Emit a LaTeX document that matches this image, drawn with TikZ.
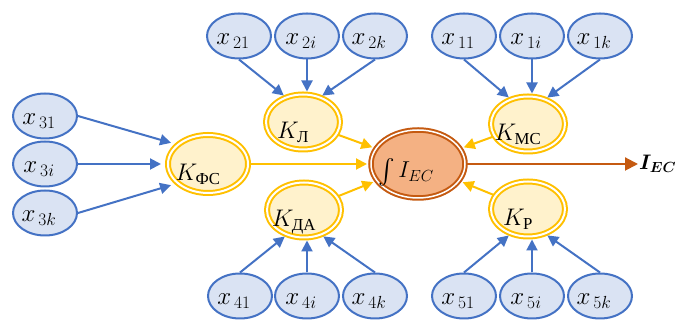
\RequirePackage{fix-cm}
\documentclass[tikz,border=0pt]{standalone}
\usepackage{fontspec}
\usepackage{amsmath}
\usetikzlibrary{shapes.geometric,arrows.meta}

\newfontfamily\cyrfont{Liberation Serif}

\definecolor{lineblue}{HTML}{4472C4}
\definecolor{fillblue}{HTML}{DAE3F3}
\definecolor{lineyellow}{HTML}{FFC000}
\definecolor{fillyellow}{HTML}{FFF2CC}
\definecolor{linebrown}{HTML}{C55A11}
\definecolor{fillbrown}{HTML}{F4B183}

% text set off the centre of its ellipse (low and to the left)
\newcommand{\shiftlabel}[3]{\makebox[0pt]{\raisebox{#2}[0pt][0pt]{\kern#1\relax#3\kern-#1\relax}}}
\newcommand{\xlab}[1]{\shiftlabel{-6pt}{-9pt}{$x_{\,#1}$}}
\newcommand{\klab}[1]{\shiftlabel{-10pt}{-17pt}{$K_{\text{\cyrfont #1}}$}}

\tikzset{
  factor/.style={ellipse, draw=lineblue, fill=fillblue, line width=2pt,
    minimum width=64pt, minimum height=45pt, inner sep=0pt,
    font=\fontsize{25}{30}\selectfont},
  coef/.style={ellipse, draw=lineyellow, fill=fillyellow, double=white,
    double distance=2pt, line width=2pt, minimum width=74pt,
    minimum height=55pt, inner sep=0pt, font=\fontsize{24}{28}\selectfont},
  core/.style={ellipse, draw=linebrown, fill=fillbrown, double=white,
    double distance=1.5pt, line width=2pt, minimum width=94pt,
    minimum height=68pt, inner sep=0pt, font=\fontsize{23}{28}\selectfont},
  bluearrow/.style={draw=lineblue, line width=2pt,
    -{Triangle[length=11pt,width=11pt]}, shorten >=2pt},
  yellowarrow/.style={draw=lineyellow, line width=2pt,
    -{Triangle[length=11pt,width=11pt]}, shorten >=3pt, shorten <=1pt},
}

\begin{document}
\begin{tikzpicture}[x=1pt,y=1pt]

    % Keep the page at the size of the reference
    \useasboundingbox (0,0) rectangle (675,320);

    % Inner integral node and its output
    \node[core] (IEC) at (418,156) {\shiftlabel{-12pt}{-14pt}{$\int I_{EC}$}};
    \node[anchor=west, inner sep=1pt, font=\fontsize{21}{25}\selectfont]
        (out) at (638,156) {$\boldsymbol{I_{EC}}$};

    % Coefficient nodes round the centre
    \node[coef, minimum width=80pt, minimum height=58pt] (KFS) at (208,156)
        {\klab{ФС}};
    \node[coef] (KL)  at (303,198) {\klab{Л}};
    \node[coef] (KDA) at (304,110) {\klab{ДА}};
    \node[coef] (KMC) at (528,196) {\klab{МС}};
    \node[coef] (KP)  at (528,111) {\klab{Р}};

    % Factor nodes, left column
    \node[factor] (x31) at (45,204) {\xlab{31}};
    \node[factor] (x3i) at (45,156) {\xlab{3i}};
    \node[factor] (x3k) at (45,107) {\xlab{3k}};

    % Factor nodes, upper rows
    \node[factor] (x21) at (239,284) {\xlab{21}};
    \node[factor] (x2i) at (307,284) {\xlab{2i}};
    \node[factor] (x2k) at (375,284) {\xlab{2k}};
    \node[factor] (x11) at (464,284) {\xlab{11}};
    \node[factor] (x1i) at (532,284) {\xlab{1i}};
    \node[factor] (x1k) at (600,284) {\xlab{1k}};

    % Factor nodes, lower rows
    \node[factor] (x41) at (240,24) {\xlab{41}};
    \node[factor] (x4i) at (307,24) {\xlab{4i}};
    \node[factor] (x4k) at (375,24) {\xlab{4k}};
    \node[factor] (x51) at (464,24) {\xlab{51}};
    \node[factor] (x5i) at (532,24) {\xlab{5i}};
    \node[factor] (x5k) at (600,24) {\xlab{5k}};

    % Factors into coefficients
    \draw[bluearrow, shorten >=6pt] (x31.east) -- (KFS.148);
    \draw[bluearrow, shorten >=6pt] (x3i.east) -- (KFS.west);
    \draw[bluearrow, shorten >=6pt] (x3k.east) -- (KFS.212);

    % middle arrows drop straight down / rise straight up
    \draw[bluearrow] (x21.south) -- (KL.125);
    \draw[bluearrow] (x2i.south) -- (x2i.south |- KL.north);
    \draw[bluearrow] (x2k.south) -- (KL.55);
    \draw[bluearrow] (x11.south) -- (KMC.125);
    \draw[bluearrow] (x1i.south) -- (x1i.south |- KMC.north);
    \draw[bluearrow] (x1k.south) -- (KMC.55);

    \draw[bluearrow] (x41.north) -- (KDA.-125);
    \draw[bluearrow] (x4i.north) -- (x4i.north |- KDA.south);
    \draw[bluearrow] (x4k.north) -- (KDA.-55);
    \draw[bluearrow] (x51.north) -- (KP.-125);
    \draw[bluearrow] (x5i.north) -- (x5i.north |- KP.south);
    \draw[bluearrow] (x5k.north) -- (KP.-55);

    % Coefficients into the integral
    \draw[yellowarrow] (KFS) -- (IEC);
    \draw[yellowarrow] (KL) -- (IEC);
    \draw[yellowarrow] (KDA) -- (IEC);
    \draw[yellowarrow] (KMC) -- (IEC);
    \draw[yellowarrow] (KP) -- (IEC);

    % Output
    \draw[draw=linebrown, line width=2pt, -{Triangle[length=13pt,width=13pt]}]
        (IEC.east) -- (IEC.east -| out.west);

\end{tikzpicture}
\end{document}
